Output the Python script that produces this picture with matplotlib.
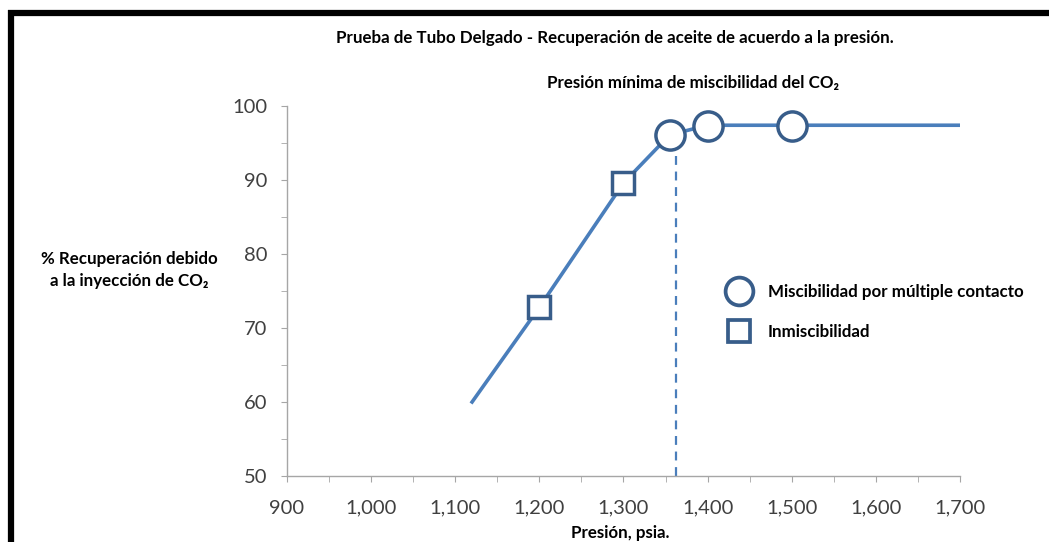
"""Prueba de tubo delgado"""
from matplotlib import pyplot as plt
from matplotlib.lines import Line2D

# Datos.
pres_line = [1120, 1200, 1300, 1355, 1400, 1500, 1700]
rec_line = [60.0, 72.8, 89.6, 96.1, 97.4, 97.4, 97.4]

pres_inmis = [1200, 1300]
rec_inmis = [72.8, 89.6]

pres_misc = [1355, 1400, 1500]
rec_misc = [96.1, 97.3, 97.3]

pmm = 1362
pmm_top = 94.5

xticks = list(range(900, 1701, 100))
yticks = list(range(50, 101, 10))

line_c = '#4a7ebb'
mark_c = '#385d8a'
plt.rcParams['font.family'] = ['Lato', 'DejaVu Sans']

W, H = 1049, 542
fig = plt.figure(figsize=(W / 100, H / 100), dpi=100)
ax = fig.add_axes([287 / W, (H - 476) / H, (960 - 287) / W, (476 - 106) / H])

ax.plot(pres_line, rec_line, c=line_c, lw=2.6, zorder=2)
ax.plot([pmm, pmm], [50, pmm_top], c=line_c, lw=1.6, ls=(0, (4, 3)), zorder=1)
ax.plot(pres_inmis, rec_inmis, ls='none', marker='s', ms=16.5, mfc='white',
        mec=mark_c, mew=2.5, zorder=3)
ax.plot(pres_misc, rec_misc, ls='none', marker='o', ms=21, mfc='white',
        mec=mark_c, mew=2.5, zorder=3)

# Format plot.
ax.set_xlim(900, 1700)
ax.set_ylim(50, 100)
ax.set_xticks(xticks)
ax.set_xticklabels([f'{x:,}' for x in xticks])
ax.set_yticks(yticks)
ax.set_xticks(range(950, 1700, 100), minor=True)
ax.set_yticks(range(55, 100, 10), minor=True)
for s in ['top', 'right']:
    ax.spines[s].set_visible(False)
for s in ['left', 'bottom']:
    ax.spines[s].set_color('#a6a6a6')
    ax.spines[s].set_linewidth(1.0)
ax.tick_params(which='both', direction='out', length=4, color='#a6a6a6',
               labelsize=14.5, labelcolor='#404040')
ax.tick_params(axis='x', pad=13)
ax.tick_params(axis='y', pad=10)

bold = dict(fontsize=12.2, fontweight='bold')
fig.text(615 / W, 1 - 38 / H, 'Prueba de Tubo Delgado - Recuperación de aceite de acuerdo a la presión.',
         ha='center', va='center', **bold)
fig.text(693 / W, 1 - 83 / H, 'Presión mínima de miscibilidad del CO₂',
         ha='center', va='center', **bold)
fig.text(129 / W, 1 - 270 / H, '% Recuperación debido\na la inyección de CO₂',
         ha='center', va='center', linespacing=1.4, **bold)
fig.text(620 / W, 1 - 533 / H, 'Presión, psia.',
         ha='center', va='center', **bold)

handles = [
    Line2D([], [], ls='none', marker='o', ms=20, mfc='white', mec=mark_c, mew=2.7),
    Line2D([], [], ls='none', marker='s', ms=16, mfc='white', mec=mark_c, mew=2.7),
]
leg = ax.legend(handles, ['Miscibilidad por múltiple contacto', 'Inmiscibilidad'],
                loc='upper left', bbox_to_anchor=(729 / W, 1 - 284 / H),
                bbox_transform=fig.transFigure, frameon=False,
                prop={'weight': 'bold', 'size': 12.2}, handlelength=1.2,
                handletextpad=1.1, labelspacing=1.4, borderpad=0, borderaxespad=0)

# Marco negro arriba e izquierda.
fig.add_artist(Line2D([11 / W, 11 / W], [0, 1 - 10 / H], transform=fig.transFigure,
                      c='black', lw=4.5, solid_capstyle='butt'))
fig.add_artist(Line2D([8 / W, 1], [1 - 13 / H, 1 - 13 / H], transform=fig.transFigure,
                      c='black', lw=4.5, solid_capstyle='butt'))

fig.savefig('out.png', dpi=100)
